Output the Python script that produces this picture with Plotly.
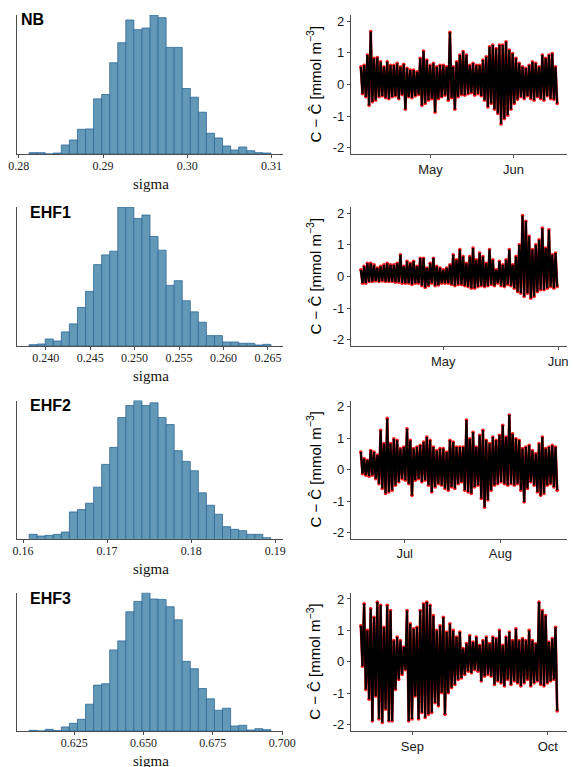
import plotly.graph_objects as go
import pandas as pd

# ---------------- histogram data (posterior samples of sigma, binned) ----------------
panel_names = ["NB", "EHF1", "EHF2", "EHF3"]

nb_bin_left, nb_bin_width = 0.28122, 0.000957
nb_counts = [4, 4, 0, 3, 27, 42, 74, 75, 165, 178, 273, 333, 401, 372, 377, 416, 408, 319, 319,
             196, 170, 125, 62, 48, 24, 12, 21, 10, 4, 3]

ehf1_bin_left, ehf1_bin_width = 0.23813, 0.000907
ehf1_counts = [4, 6, 21, 15, 42, 66, 115, 163, 243, 272, 283, 415, 415, 381, 391, 327, 286, 181,
               195, 135, 102, 71, 31, 31, 12, 12, 8, 8, 3, 5]

ehf2_bin_left, ehf2_bin_width = 0.160722, 0.000959
ehf2_counts = [13, 8, 10, 13, 20, 80, 87, 106, 154, 222, 273, 362, 398, 413, 398, 406, 362, 341,
               263, 231, 203, 137, 100, 73, 36, 28, 24, 13, 13, 3]

ehf3_bin_left, ehf3_bin_width = 0.60873, 0.002907
ehf3_counts = [2, 0, 5, 1, 12, 23, 35, 80, 137, 141, 242, 269, 356, 387, 413, 394, 393, 371, 332,
               208, 186, 127, 96, 62, 68, 15, 17, 3, 7, 4]

hist_dtick = [0.01, 0.005, 0.01, 0.025]
hist_fmt = [".2f", ".3f", ".2f", ".3f"]

# ---------------- residual time series (upper / lower excursions) ----------------
nb_start, nb_end = "2019-04-05 00:00", "2019-06-17 08:00"
nb_hi = [0.56, 0.61, 0.93, 1.68, 0.83, 0.85, 0.72, 0.56, 0.72, 0.61, 0.61, 0.67, 0.56, 0.64, 0.51,
         0.46, 0.46, 0.40, 0.83, 1.06, 0.77, 0.61, 0.67, 0.56, 0.61, 0.61, 0.56, 1.65, 0.56, 0.72,
         0.93, 1.04, 0.93, 0.61, 0.67, 0.61, 0.61, 0.77, 0.88, 1.19, 1.25, 1.14, 1.25, 1.25, 1.35,
         1.09, 0.98, 0.83, 0.67, 0.56, 0.51, 0.61, 0.72, 0.67, 0.56, 0.93, 0.83, 0.93, 0.98, 0.56]
nb_lo = [-0.29, -0.39, -0.66, -0.55, -0.50, -0.39, -0.36, -0.42, -0.45, -0.39, -0.36, -0.45, -0.32,
         -0.78, -0.39, -0.42, -0.36, -0.32, -0.66, -0.60, -0.50, -0.45, -0.88, -0.45, -0.39, -0.34,
         -0.50, -0.42, -0.78, -0.39, -0.32, -0.34, -0.29, -0.26, -0.34, -0.29, -0.36, -0.50, -0.71,
         -0.60, -0.78, -0.92, -1.25, -1.08, -0.97, -0.78, -0.60, -0.47, -0.39, -0.45, -0.36, -0.45,
         -0.50, -0.39, -0.45, -0.50, -0.36, -0.45, -0.47, -0.60]

ehf1_start, ehf1_end = "2019-04-08 18:00", "2019-05-31 18:00"
ehf1_hi = [0.21, 0.32, 0.42, 0.42, 0.37, 0.27, 0.32, 0.37, 0.42, 0.37, 0.37, 0.42, 0.69, 0.32, 0.48,
           0.42, 0.48, 0.32, 0.58, 0.58, 0.27, 0.42, 0.58, 0.32, 0.27, 0.21, 0.27, 0.37, 0.69, 0.53,
           0.85, 0.63, 0.42, 0.63, 0.90, 0.53, 0.74, 0.63, 0.42, 0.85, 0.53, 0.21, 0.48, 0.37, 0.53,
           0.85, 0.37, 0.63, 1.00, 1.93, 1.75, 1.27, 0.85, 1.00, 1.16, 1.53, 0.90, 1.48, 0.69, 0.74]
ehf1_lo = [-0.21, -0.21, -0.16, -0.16, -0.14, -0.16, -0.14, -0.16, -0.16, -0.16, -0.18, -0.18, -0.21,
           -0.21, -0.21, -0.25, -0.21, -0.21, -0.29, -0.35, -0.29, -0.21, -0.29, -0.27, -0.21, -0.21,
           -0.21, -0.25, -0.29, -0.25, -0.25, -0.29, -0.32, -0.37, -0.37, -0.32, -0.29, -0.32, -0.29,
           -0.25, -0.29, -0.21, -0.29, -0.32, -0.25, -0.29, -0.37, -0.48, -0.53, -0.63, -0.53, -0.69,
           -0.63, -0.48, -0.42, -0.42, -0.37, -0.32, -0.37, -0.32]

ehf2_start, ehf2_end = "2019-06-16 19:00", "2019-08-19 09:00"
ehf2_hi = [0.56, 0.35, 0.30, 0.61, 0.56, 0.46, 1.25, 0.83, 1.63, 0.83, 0.98, 0.93, 0.67, 0.72, 1.30,
           0.93, 0.67, 0.72, 0.77, 0.88, 1.04, 0.93, 0.72, 0.61, 0.67, 0.67, 0.56, 0.93, 0.88, 0.72,
           0.72, 0.72, 1.58, 0.98, 1.19, 0.72, 1.09, 1.25, 0.93, 0.83, 1.04, 0.93, 1.09, 1.41, 1.04,
           1.74, 1.14, 0.98, 0.93, 0.67, 0.72, 0.77, 0.61, 0.51, 0.83, 1.04, 0.67, 0.72, 0.77, 0.72]
ehf2_lo = [-0.13, -0.18, -0.21, -0.18, -0.29, -0.45, -0.60, -0.76, -0.71, -0.66, -0.50, -0.39, -0.29,
           -0.34, -0.45, -0.82, -0.34, -0.29, -0.39, -0.34, -0.50, -0.71, -0.55, -0.45, -0.50, -0.60,
           -0.66, -0.55, -0.60, -0.45, -0.39, -0.66, -0.71, -0.76, -0.55, -0.50, -0.92, -1.20, -0.97,
           -0.66, -0.50, -0.45, -0.39, -0.45, -0.50, -0.45, -0.50, -0.45, -0.66, -1.03, -0.60, -0.39,
           -0.50, -0.71, -0.82, -0.76, -0.50, -0.45, -0.55, -0.66]

ehf3_start, ehf3_end = "2019-08-20 14:00", "2019-10-03 02:00"
ehf3_hi = [1.15, 1.85, 1.00, 1.69, 1.42, 1.90, 1.80, 1.10, 1.80, 1.63, 0.68, 0.79, 0.68, 0.47, 1.63,
           1.21, 1.05, 1.10, 1.63, 1.85, 1.90, 1.80, 1.47, 1.00, 1.15, 1.42, 0.95, 1.21, 1.00, 0.79,
           0.95, 0.42, 0.58, 0.84, 0.63, 0.79, 0.53, 0.68, 0.79, 0.58, 0.79, 0.74, 1.00, 0.53, 0.79,
           0.95, 0.68, 1.05, 0.68, 0.74, 0.68, 1.00, 0.68, 0.58, 1.90, 1.63, 1.47, 0.63, 0.74, 1.10]
ehf3_lo = [-0.14, -0.88, -1.19, -1.88, -1.09, -1.82, -1.93, -1.51, -1.88, -1.88, -0.88, -0.56, -0.40,
           -0.25, -1.88, -1.82, -1.09, -1.82, -1.61, -1.77, -1.67, -1.61, -1.30, -1.40, -0.98, -1.67,
           -0.98, -0.82, -0.72, -0.56, -0.51, -0.40, -0.30, -0.35, -0.25, -0.30, -0.61, -0.46, -0.40,
           -0.46, -0.72, -0.61, -0.67, -0.77, -0.56, -0.72, -0.61, -0.67, -0.77, -0.67, -0.56, -0.77,
           -0.67, -0.61, -0.72, -0.77, -0.67, -0.61, -0.56, -1.56]

y_ticks = [-2, -1, 0, 1, 2]
y_tick_text = ["-2", "-1", "0", "1", "2"]

hists = [(nb_bin_left, nb_bin_width, nb_counts), (ehf1_bin_left, ehf1_bin_width, ehf1_counts),
         (ehf2_bin_left, ehf2_bin_width, ehf2_counts), (ehf3_bin_left, ehf3_bin_width, ehf3_counts)]
series = [(nb_start, nb_end, nb_hi, nb_lo), (ehf1_start, ehf1_end, ehf1_hi, ehf1_lo),
          (ehf2_start, ehf2_end, ehf2_hi, ehf2_lo), (ehf3_start, ehf3_end, ehf3_hi, ehf3_lo)]

# ---------------- layout geometry (pixels) ----------------
W, H = 573, 767
rows_px = [(15, 154), (207, 346), (400.5, 538.7), (592.7, 731)]
hist_x_px = (17, 283)
ts_x_px = (351, 567)
label_x_px = [19, 28, 28, 28]
label_y_px = [19, 212.5, 405.5, 598.5]

def fx(px):
    return px / W

def fy(py):
    return 1 - py / H

SANS = "Liberation Sans, Arial, Helvetica, sans-serif"
SERIF = "Liberation Serif, Times New Roman, serif"
AX = "#4d4d4d"

fig = go.Figure()
layout = dict(width=W, height=H, margin=dict(l=0, r=0, t=0, b=0, autoexpand=False),
              showlegend=False, plot_bgcolor="white", paper_bgcolor="white")
annotations = []

for r in range(4):
    top, bot = rows_px[r]
    ydom = [fy(bot), fy(top)]
    # ---- histogram ----
    left, width, counts = hists[r]
    centers = [left + width * (i + 0.5) for i in range(len(counts))]
    lo_edge = left
    hi_edge = left + width * len(counts)
    span = hi_edge - lo_edge
    hx = 2 * r + 1
    tx = 2 * r + 2
    fig.add_trace(go.Bar(x=centers, y=counts, width=width,
                         marker=dict(color="#6398b6", line=dict(color="#2d6a9a", width=0.8)),
                         xaxis=f"x{hx}", yaxis=f"y{hx}", hoverinfo="skip"))
    layout[f"xaxis{hx}"] = dict(domain=[fx(hist_x_px[0]), fx(hist_x_px[1])], anchor=f"y{hx}",
                                automargin=False,
                                range=[lo_edge - 0.05 * span, hi_edge + 0.05 * span],
                                showgrid=False, zeroline=False, showline=True, linecolor=AX,
                                linewidth=1.1, ticks="outside", ticklen=3, tickcolor=AX,
                                tickwidth=1, dtick=hist_dtick[r], tick0=0, tickformat=hist_fmt[r],
                                ticklabelstandoff=-2,
                                tickfont=dict(family=SERIF, size=12, color="#222"))
    layout[f"yaxis{hx}"] = dict(domain=ydom, anchor=f"x{hx}", range=[0, max(counts)],
                                automargin=False,
                                showgrid=False, zeroline=False, showline=True, linecolor=AX,
                                linewidth=1.1, showticklabels=False, ticks="")
    annotations.append(dict(text="sigma", x=fx(151), y=fy(bot + 30), xref="paper", yref="paper",
                            showarrow=False, xanchor="center", yanchor="middle",
                            font=dict(family=SERIF, size=15, color="#111")))
    annotations.append(dict(text=f"<b>{panel_names[r]}</b>", x=fx(label_x_px[r]), y=fy(label_y_px[r]),
                            xref="paper", yref="paper", showarrow=False, xanchor="left",
                            yanchor="middle", font=dict(family=SANS, size=16, color="black")))
    # ---- residual time series ----
    start, end, hi, lo = series[r]
    yv = []
    for h, l in zip(hi, lo):
        yv += [h, l]
    t = pd.date_range(start, end, periods=len(yv))
    tspan = t[-1] - t[0]
    fig.add_trace(go.Scatter(x=t, y=yv, mode="lines+markers",
                             line=dict(color="#ff1a1a", width=2.6, simplify=False),
                             marker=dict(color="#ff1a1a", size=3.6),
                             xaxis=f"x{tx}", yaxis=f"y{tx}", hoverinfo="skip"))
    fig.add_trace(go.Scatter(x=t, y=yv, mode="lines",
                             line=dict(color="black", width=2.2, simplify=False),
                             xaxis=f"x{tx}", yaxis=f"y{tx}", hoverinfo="skip"))
    layout[f"xaxis{tx}"] = dict(domain=[fx(ts_x_px[0]), fx(ts_x_px[1])], anchor=f"y{tx}",
                                automargin=False,
                                type="date", range=[t[0] - 0.05 * tspan, t[-1] + 0.05 * tspan],
                                showgrid=False, zeroline=False, showline=True, linecolor=AX,
                                linewidth=1.1, ticks="outside", ticklen=3, tickcolor=AX,
                                dtick="M1", tick0="2019-01-01", tickformat="%b",
                                tickfont=dict(family=SANS, size=13, color="#1a1a1a"))
    layout[f"yaxis{tx}"] = dict(domain=ydom, anchor=f"x{tx}", range=[-2.2, 2.2],
                                automargin=False,
                                showgrid=False, zeroline=False, showline=True, linecolor=AX,
                                linewidth=1.1, ticks="outside", ticklen=3, tickcolor=AX,
                                tickvals=y_ticks, ticktext=y_tick_text,
                                tickfont=dict(family=SANS, size=13, color="#1a1a1a"))
    annotations.append(dict(text="C \u2212 \u0108 [mmol m<sup>\u22123</sup>]", x=fx(314),
                            y=fy((top + bot) / 2), xref="paper", yref="paper", showarrow=False,
                            textangle=-90, xanchor="center", yanchor="middle",
                            font=dict(family=SANS, size=15, color="black")))

layout["annotations"] = annotations
fig.update_layout(**layout)
fig.write_html("out.html", config={"displayModeBar": False},
               post_script="document.body.style.margin='0px';document.body.style.overflow='hidden';")
